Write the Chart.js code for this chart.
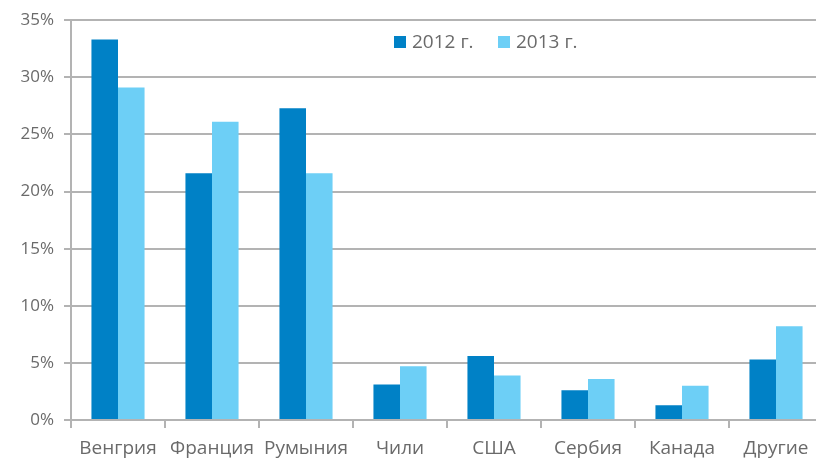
<!DOCTYPE html>
<html>
<head>
<meta charset="utf-8">
<script src="https://cdn.jsdelivr.net/npm/chart.js@4/dist/chart.umd.min.js"></script>
<style>
  html, body { margin: 0; padding: 0; background: #fff; overflow: hidden; }
  #wrap { width: 816px; height: 463px; overflow: hidden; }
  #box { width: 824px; height: 463px; }
</style>
</head>
<body>
<div id="wrap"><div id="box"><canvas id="chart"></canvas></div></div>
<script>
const categories = ["Венгрия", "Франция", "Румыния", "Чили", "США", "Сербия", "Канада", "Другие"];
const values2012 = [33.3, 21.6, 27.3, 3.1, 5.6, 2.6, 1.3, 5.3];
const values2013 = [29.1, 26.1, 21.6, 4.7, 3.9, 3.6, 3.0, 8.2];
const seriesLabels = ["2012 г.", "2013 г."];

const darkBlue = "#0081c6";
const lightBlue = "#6dcff6";
const gridColor = "#b3b3b3";
const textColor = "#6a6a6a";
const fontFamily = "'Open Sans', 'DejaVu Sans', sans-serif";

// legend drawn inside the plot, like the original
const innerLegend = {
    id: "innerLegend",
    afterDraw(chart) {
        const ctx = chart.ctx;
        ctx.save();
        ctx.font = "19px " + fontFamily;
        ctx.textBaseline = "middle";
        const y = 42;
        const xs = [394, 498];
        chart.data.datasets.forEach((ds, i) => {
            ctx.fillStyle = ds.backgroundColor;
            ctx.fillRect(xs[i], y - 6, 12, 12);
            ctx.fillStyle = textColor;
            ctx.fillText(ds.label, xs[i] + 18, y + 1);
        });
        ctx.restore();
    }
};

new Chart(document.getElementById("chart"), {
    type: "bar",
    data: {
        labels: categories,
        datasets: [
            { label: seriesLabels[0], data: values2012, backgroundColor: darkBlue },
            { label: seriesLabels[1], data: values2013, backgroundColor: lightBlue }
        ]
    },
    options: {
        responsive: true,
        maintainAspectRatio: false,
        animation: { duration: 0 },
        layout: { padding: { top: 16, right: 1, left: 0, bottom: 0 } },
        datasets: {
            bar: { categoryPercentage: 0.565, barPercentage: 1.0 }
        },
        plugins: {
            legend: { display: false },
            title: { display: false },
            tooltip: { enabled: false }
        },
        scales: {
            y: {
                min: 0,
                max: 35,
                afterFit: s => { s.width = 71; },
                border: { color: gridColor, width: 2 },
                grid: { color: gridColor, lineWidth: 2, tickLength: 7 },
                ticks: {
                    stepSize: 5,
                    color: textColor,
                    padding: 10,
                    font: { size: 17, family: fontFamily },
                    callback: v => v + "%"
                }
            },
            x: {
                afterFit: s => { s.height = 43; },
                border: { color: gridColor, width: 2 },
                grid: { drawOnChartArea: false, color: gridColor, lineWidth: 2, tickLength: 8, offset: true },
                ticks: {
                    color: textColor,
                    padding: 9,
                    font: { size: 19, family: fontFamily }
                }
            }
        }
    },
    plugins: [innerLegend]
});
</script>
</body>
</html>
